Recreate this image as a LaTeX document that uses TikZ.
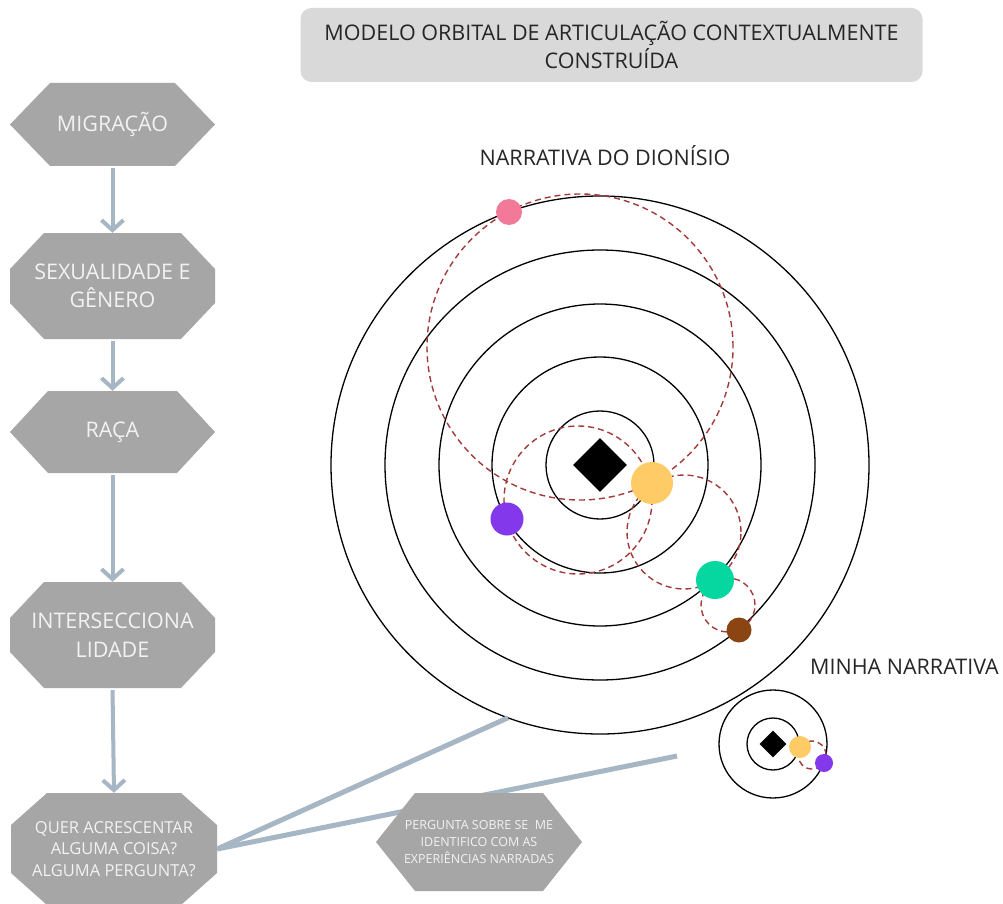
\documentclass[tikz,border=0pt]{standalone}
\usepackage{fontspec}
\setmainfont{Open Sans}
\usetikzlibrary{arrows.meta,calc,shapes.geometric}
\definecolor{boxgray}{HTML}{A6A6A6}
\definecolor{titlegray}{HTML}{D9D9D9}
\definecolor{linkc}{HTML}{A7B6C4}
\definecolor{orbred}{HTML}{A33A3A}
\definecolor{pinkp}{HTML}{F27A98}
\definecolor{yellowp}{HTML}{FFCB66}
\definecolor{purplep}{HTML}{8338EC}
\definecolor{greenp}{HTML}{06D6A0}
\definecolor{brownp}{HTML}{8B4513}
\definecolor{boxtext}{HTML}{F2F2F2}
\definecolor{darktext}{HTML}{262626}
\tikzset{
  polybase/.style={rectangle, inner sep=0pt, text=boxtext, align=center},
  hexbox/.style={polybase, path picture={\fill[boxgray]
    ([xshift=#1]path picture bounding box.north west) --
    ([xshift=-#1]path picture bounding box.north east) --
    (path picture bounding box.east) --
    ([xshift=-#1]path picture bounding box.south east) --
    ([xshift=#1]path picture bounding box.south west) --
    (path picture bounding box.west) -- cycle;}},
  octbox/.style 2 args={polybase, path picture={\fill[boxgray]
    ([xshift=#1]path picture bounding box.north west) --
    ([xshift=-#1]path picture bounding box.north east) --
    ([yshift=-#2]path picture bounding box.north east) --
    ([yshift=#2]path picture bounding box.south east) --
    ([xshift=-#1]path picture bounding box.south east) --
    ([xshift=#1]path picture bounding box.south west) --
    ([yshift=#2]path picture bounding box.south west) --
    ([yshift=-#2]path picture bounding box.north west) -- cycle;}},
  bigfont/.style={font=\fontsize{21.5}{28.5}\selectfont},
  flowarrow/.style={draw=linkc, line width=4pt, shorten <=2pt, -{Straight Barb[length=10pt,width=22pt]}},
  link/.style={draw=linkc, line width=5pt},
  orbit/.style={draw=black, line width=1.3pt},
  dorbit/.style={draw=orbred, line width=1.4pt, dash pattern=on 6pt off 4pt},
  planet/.style={circle, fill=#1, draw=none, inner sep=0pt},
  core/.style={diamond, fill=black, draw=none, inner sep=0pt},
  label/.style={text=darktext, font=\fontsize{21.5}{24}\selectfont, inner sep=0pt}
}
\begin{document}
\begin{tikzpicture}[x=1pt,y=-1pt]
\useasboundingbox (0,0) rectangle (1003,904);
\fill[white] (0,0) rectangle (1003,904);

% title
\node[fill=titlegray, rounded corners=11pt, minimum width=622pt, minimum height=74pt,
      align=center, text=darktext, bigfont, inner sep=0pt] (title) at (611.5,45)
  {MODELO ORBITAL DE ARTICULAÇÃO CONTEXTUALMENTE\\CONSTRUÍDA};

% left flow
\node[hexbox=40pt, minimum width=205pt, minimum height=83pt, bigfont] (mig) at (112.5,124.5) {MIGRAÇÃO};
\node[octbox={34pt}{36pt}, minimum width=205pt, minimum height=106pt, bigfont] (sex) at (112.5,286) {SEXUALIDADE E\\GÊNERO};
\node[hexbox=38pt, minimum width=205pt, minimum height=82pt, bigfont] (raca) at (112.5,432) {RAÇA};
\node[octbox={34pt}{36pt}, minimum width=205pt, minimum height=106pt, bigfont] (inter) at (112.5,635) {INTERSECCIONA\\LIDADE};
\node[octbox={36pt}{32pt}, minimum width=206pt, minimum height=112pt,
      font=\fontsize{16.5}{21.5}\selectfont] (quer) at (114,849) {QUER ACRESCENTAR\\ALGUMA COISA?\\ALGUMA PERGUNTA?};

\draw[flowarrow] (mig.south) -- (sex.north);
\draw[flowarrow] (sex.south) -- (raca.north);
\draw[flowarrow] (raca.south) -- (inter.north);
\draw[flowarrow] (inter.south) -- (quer.north);

% big orbital system
\coordinate (bigc) at (600,465);
\foreach \r in {54,108,161,215,269} { \draw[orbit] (bigc) circle[radius=\r pt]; }
\draw[dorbit] (580,347) circle[radius=153pt];
\draw[dorbit] (578,500) circle[radius=74pt];
\draw[dorbit] (684,532) circle[radius=57pt];
\draw[dorbit] (728,605) circle[radius=27pt];
\node[core, minimum width=54pt, minimum height=54pt] (core) at (bigc) {};
\node[planet=pinkp, minimum size=26pt] (pink) at (509,212) {};
\node[planet=yellowp, minimum size=42pt] (yellow) at (652,483) {};
\node[planet=purplep, minimum size=33pt] (purple) at (507,519) {};
\node[planet=greenp, minimum size=38pt] (green) at (715,580) {};
\node[planet=brownp, minimum size=25pt] (brown) at (739,630) {};
\node[label] (dion) at (605,156) {NARRATIVA DO DIONÍSIO};

% small orbital system
\coordinate (smc) at (773,744);
\draw[orbit] (smc) circle[radius=26pt];
\draw[orbit] (smc) circle[radius=54pt];
\draw[dorbit] (812,755) circle[radius=14pt];
\node[core, minimum width=27pt, minimum height=27pt] (score) at (smc) {};
\node[planet=yellowp, minimum size=22pt] (syellow) at (800,747) {};
\node[planet=purplep, minimum size=18pt] (spurple) at (824,763) {};
\node[label, anchor=west] (minha) at (810,667) {MINHA NARRATIVA};

% connectors
\coordinate (rim) at ($(bigc)+(250:269pt)$);
\coordinate (smallend) at (677,756);
\draw[link] (quer.east) -- (rim);
\draw[link] (quer.east) -- (smallend);

\node[hexbox=39pt, minimum width=206pt, minimum height=98pt,
      font=\fontsize{12.5}{17}\selectfont] (perg) at (479,842)
  {PERGUNTA SOBRE SE\ \ ME\\IDENTIFICO COM AS\\EXPERIÊNCIAS NARRADAS};
\end{tikzpicture}
\end{document}
